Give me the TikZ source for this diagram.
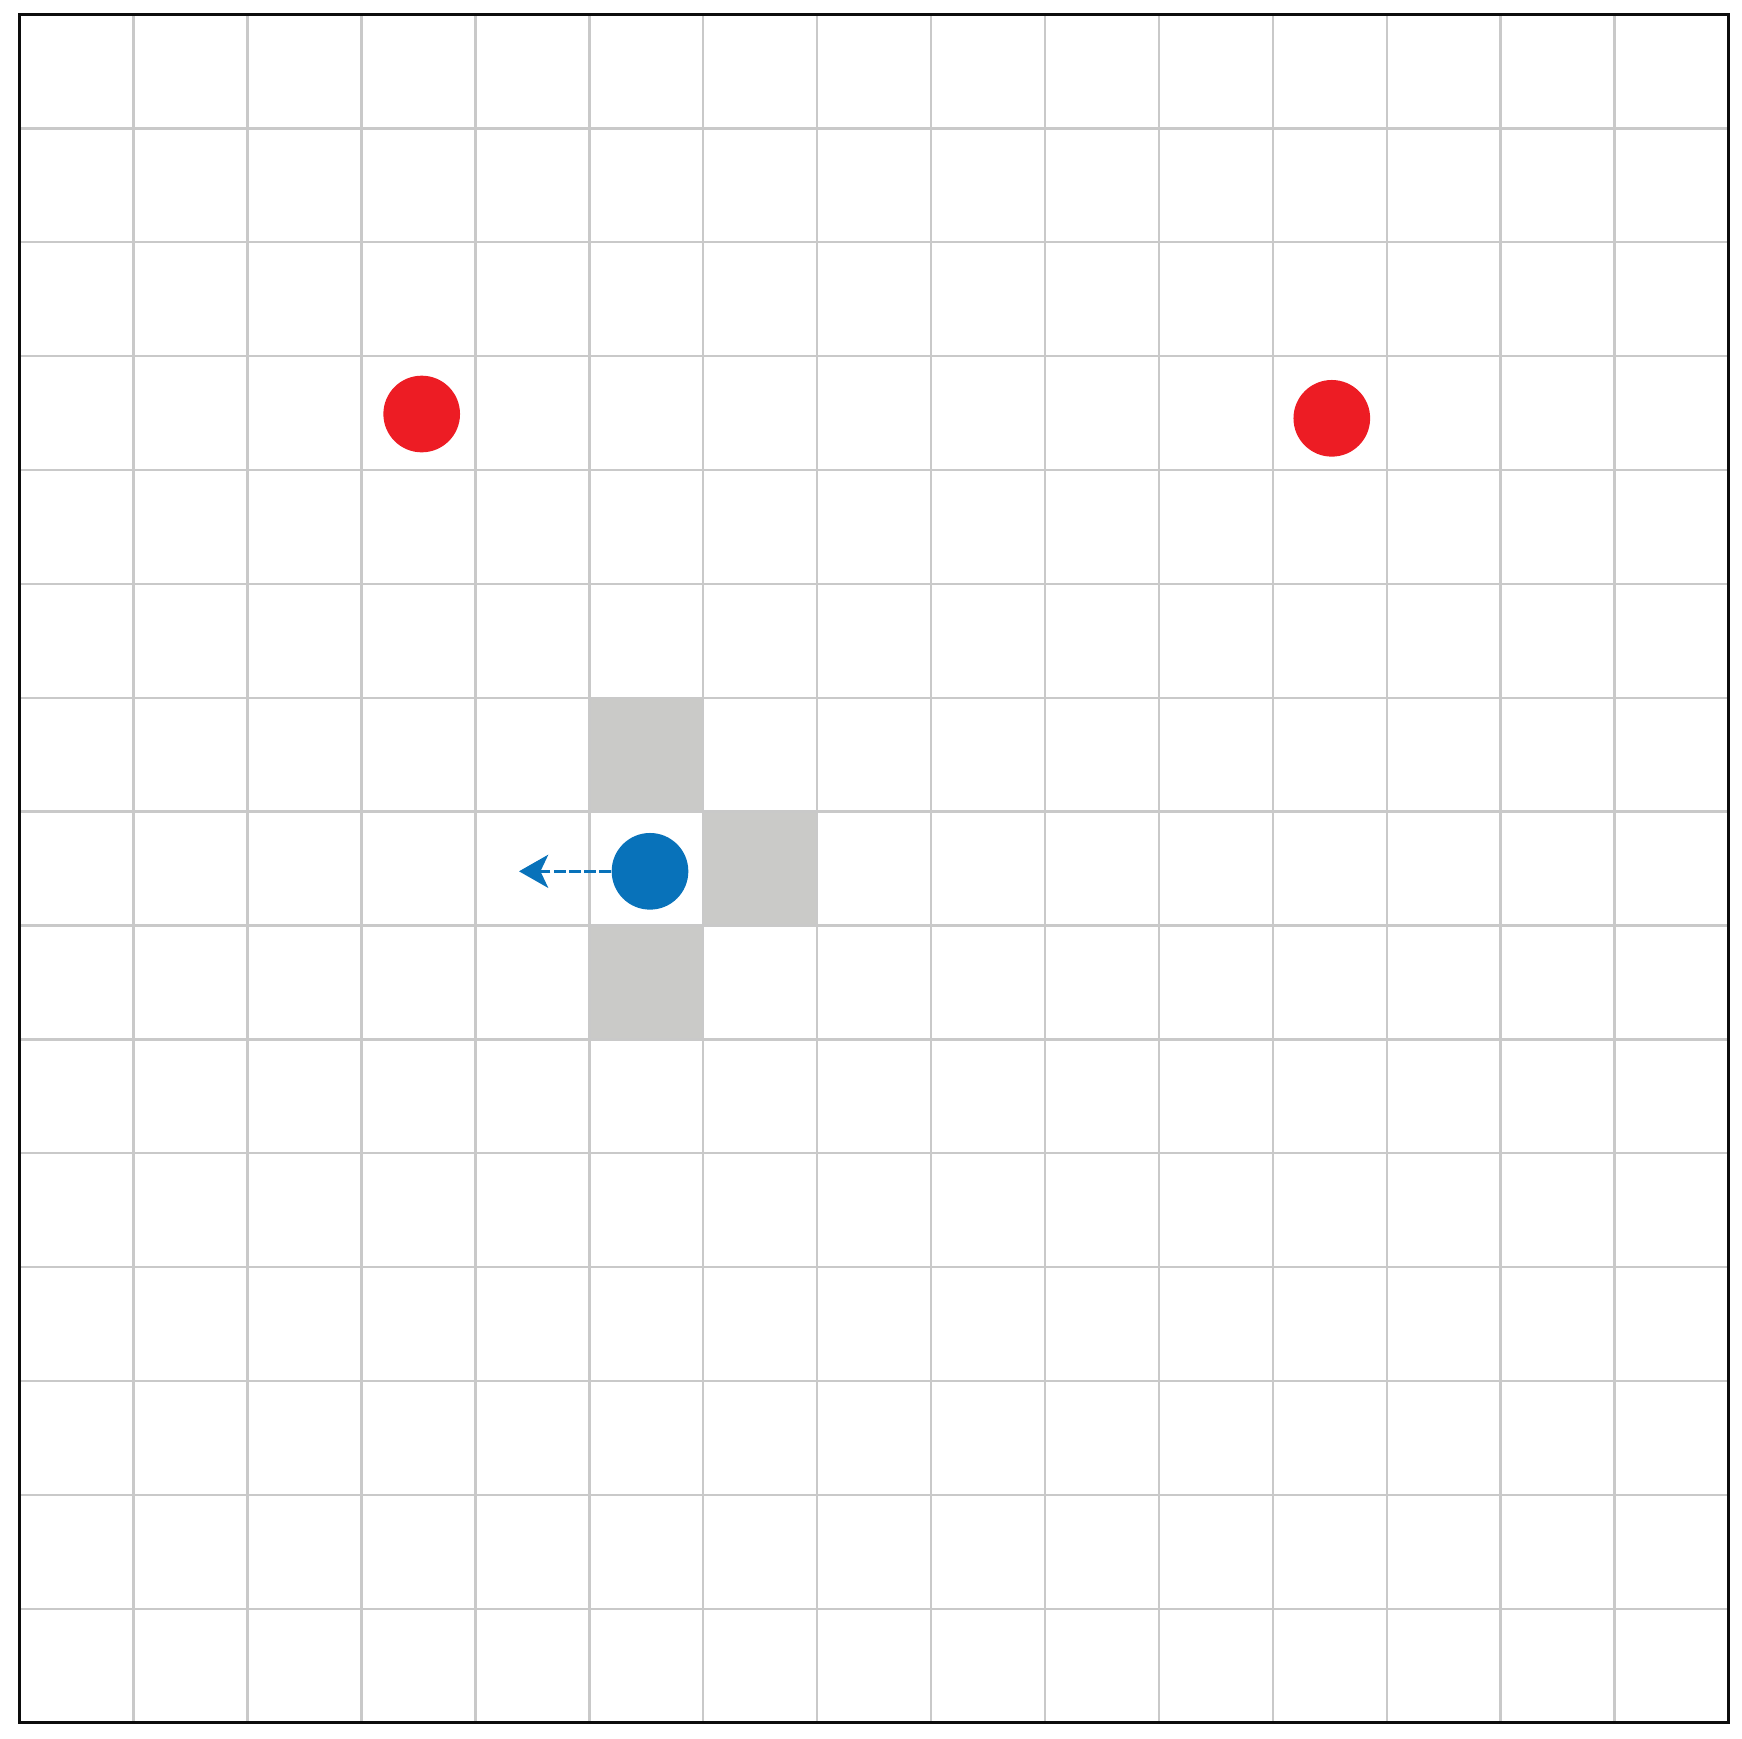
\documentclass[tikz,border=0pt]{standalone}
\usetikzlibrary{arrows.meta}
\definecolor{gridgray}{HTML}{C9C9C9}
\definecolor{cellgray}{HTML}{CACAC8}
\definecolor{dotred}{HTML}{ED1C24}
\definecolor{dotblue}{HTML}{0872BA}
\tikzset{
  gridline/.style={draw=gridgray, line width=0.68pt},
  frameline/.style={draw=black!95, line width=0.9pt},
  shaded/.style={fill=cellgray},
  reddot/.style={circle, fill=dotred, minimum size=21.8pt, inner sep=0pt},
  bluedot/.style={circle, fill=dotblue, minimum size=21.8pt, inner sep=0pt},
  movearrow/.style={draw=dotblue, line width=0.8pt, dash pattern=on 3.3pt off 1pt,
    -{Stealth[length=8.3pt,width=9.4pt,inset=2.2pt,fill=dotblue]}}
}
\begin{document}
\begin{tikzpicture}[x=0.01cm,y=-0.01cm]
\useasboundingbox (0,0) rectangle (1742,1739);
% shaded cells (col,row)
\foreach \c/\r in {5/6,6/7,5/8}{
  \fill[shaded] ({19.7+\c*113.92},{14.5+\r*113.87}) rectangle ({19.7+(\c+1)*113.92},{14.5+(\r+1)*113.87});
}
% grid
\foreach \i in {1,...,14}{
  \draw[gridline] ({19.7+\i*113.92},14.5) -- ({19.7+\i*113.92},1722.5);
  \draw[gridline] (19.7,{14.5+\i*113.87}) -- (1728.5,{14.5+\i*113.87});
}
\draw[frameline] (19.7,14.5) rectangle (1728.5,1722.5);
% agents
\node[reddot] (r1) at (421.7,414) {};
\node[reddot] (r2) at (1331.8,418.3) {};
\node[bluedot] (b) at (650,871.3) {};
\coordinate (tip) at (519,871.3);
\draw[movearrow] (b.west) -- (tip);
\end{tikzpicture}
\end{document}
